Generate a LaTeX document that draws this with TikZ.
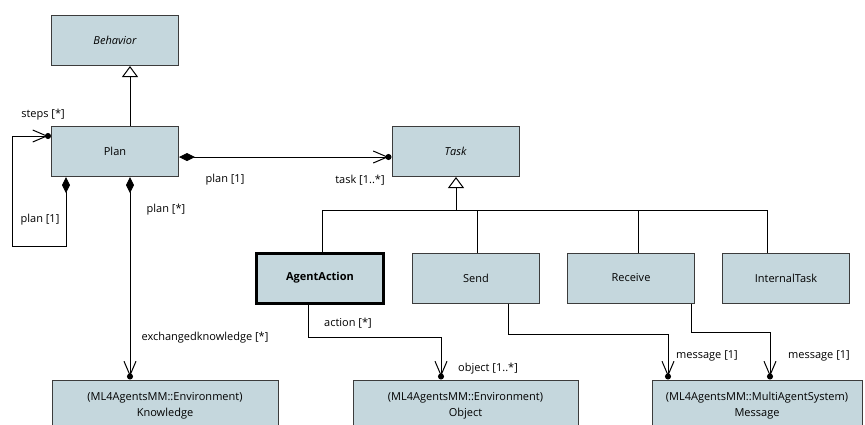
\documentclass[tikz,border=0pt]{standalone}
\usepackage{fontspec}
\setmainfont{Open Sans}
\usetikzlibrary{positioning,arrows.meta}

\definecolor{classfill}{RGB}{197,215,221}
\definecolor{classline}{RGB}{60,60,60}

\begin{document}
\begin{tikzpicture}[
        x=1pt, y=-1pt,
        font=\fontsize{11}{16}\selectfont,
        node distance=27pt,
        umlclass/.style={draw=classline, fill=classfill, line width=1pt, minimum width=127pt, minimum height=50pt, align=center, inner sep=2pt},
        extclass/.style={umlclass, minimum height=58pt, text depth=10pt},
        role/.style={inner sep=0pt},
        inherit/.style={line width=1pt, -{Triangle[length=11pt, width=16pt, fill=white]}},
        navig/.style={line width=1pt, -{Straight Barb[length=14pt, width=12pt, sep=-3pt]Circle[length=6pt]}},
        compose/.style={line width=1pt, {Diamond[length=16pt, width=8pt]}-{Straight Barb[length=14pt, width=12pt, sep=-3pt]Circle[length=6pt]}}
    ]
        \useasboundingbox (0,0) rectangle (865,424);

        % classes
        \node[umlclass] (behavior) at (115,40.5) {\itshape Behavior};
        \node[umlclass] (plan) at (115,151.5) {Plan};
        \node[umlclass] (task) at (455.5,151.5) {\itshape Task};

        \node[umlclass, line width=3pt, draw=black] (agentaction) at (320,278) {\bfseries AgentAction};
        \node[umlclass, right=of agentaction] (send) {Send};
        \node[umlclass, right=of send] (receive) {Receive};
        \node[umlclass, right=of receive] (internaltask) {InternalTask};

        \node[extclass, minimum width=226pt] (knowledge) at (165,409) {(ML4AgentsMM::Environment)\\Knowledge};
        \node[extclass, minimum width=225pt] (object) at (465.5,409) {(ML4AgentsMM::Environment)\\Object};
        \node[extclass, minimum width=210pt] (message) at (757,409) {(ML4AgentsMM::MultiAgentSystem)\\Message};

        % generalisations
        \draw[inherit] ([xshift=15pt]plan.north) -- ([xshift=15pt]behavior.south);
        \coordinate (tasktree) at (456,210);
        \draw[inherit] (tasktree) -- (tasktree |- task.south);
        \draw[line width=1pt] ([xshift=2pt]agentaction.north) |- (tasktree);
        \draw[line width=1pt] ([xshift=1pt]send.north) |- (tasktree);
        \draw[line width=1pt] ([xshift=7pt]receive.north) |- (tasktree);
        \draw[line width=1pt] ([xshift=-19pt]internaltask.north) |- (tasktree);

        % associations
        \coordinate (loopcorner) at (12,246);
        \draw[compose] ([xshift=-49pt]plan.south) |- (loopcorner) |- ([yshift=15.5pt]plan.west);
        \draw[compose] ([yshift=-5.5pt]plan.east) -- ([yshift=-5.5pt]task.west);
        \draw[compose] ([xshift=15pt]plan.south) -- ([xshift=-35pt]knowledge.north);
        \draw[navig] ([xshift=-12pt]agentaction.south) -- ++(0,33) -| ([xshift=-24.5pt]object.north);
        \draw[navig] ([xshift=32pt]send.south) -- ++(0,31) -| ([xshift=-89pt]message.north);
        \draw[navig] ([xshift=60pt]receive.south) -- ++(0,29) -| ([xshift=13pt]message.north);

        % role names
        \node[role] (lblsteps) at (43,115) {steps [*]};
        \node[role] (lblloop) at (40,220) {plan [1]};
        \node[role] (lblplanmany) at (166,210) {plan [*]};
        \node[role] (lblplanone) at (225,180) {plan [1]};
        \node[role] (lbltask) at (360,180) {task [1..*]};
        \node[role] (lblknowledge) at (205,338) {exchangedknowledge [*]};
        \node[role] (lblaction) at (348,323) {action [*]};
        \node[role] (lblobject) at (488,369) {object [1..*]};
        \node[role] (lblsend) at (707,356) {message [1]};
        \node[role] (lblreceive) at (819,356) {message [1]};
    \end{tikzpicture}
\end{document}
